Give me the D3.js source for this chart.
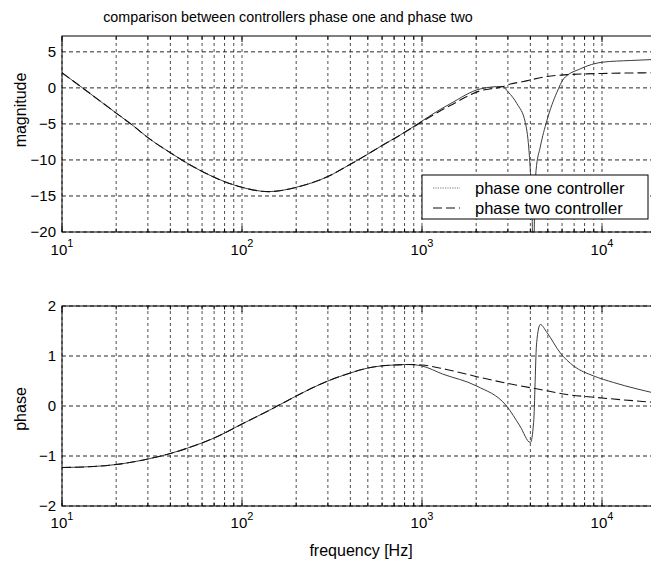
<!DOCTYPE html>
<html><head><meta charset="utf-8">
<script src="https://cdn.jsdelivr.net/npm/d3@7"></script>
<style>body{margin:0;background:#fff}svg{display:block}text{font-family:"Liberation Sans",Arial,sans-serif;fill:#000}</style>
</head><body><svg id="c" width="651" height="567"></svg>
<script>
// ---- data ----
const magFreqP1 = [10,13,20,25,30,40,50,70,100,140,200,300,400,500,600,750,1000,1260,1435,2110,2780,3020,3370,3750,3915,4000,4080,4150,4230,4300,4540,4945,5620,6120,7570,10080,14350,20000];
const magP1     = [2.1,0,-3.5,-5.3,-6.9,-9.0,-10.5,-12.4,-13.8,-14.4,-13.8,-12.3,-10.6,-9.2,-8.0,-6.6,-4.6,-3.0,-2.2,-0.14,0.2,-0.6,-2.2,-4.8,-8.2,-11.5,-16,-26,-16,-11.5,-8.2,-4.5,-0.6,1.25,2.64,3.57,3.8,3.95];
const magFreqP2 = [10,13,20,25,30,40,50,70,100,140,200,300,400,500,600,750,1000,1260,1435,2110,2780,3100,3665,4000,4945,6120,10000,20000];
const magP2     = [2.1,0,-3.5,-5.3,-6.9,-9.0,-10.5,-12.4,-13.8,-14.4,-13.8,-12.3,-10.6,-9.2,-8.0,-6.6,-4.7,-3.2,-2.45,-0.4,0.15,0.55,0.88,1.1,1.58,1.8,2.0,2.1];
const phFreqP1  = [10,15,20,30,40,50,70,100,150,200,300,400,500,700,850,1000,1300,2010,2950,3500,4000,4170,4335,4540,4945,5870,6960,9000,11600,20000];
const phP1      = [-1.23,-1.21,-1.17,-1.06,-0.95,-0.84,-0.64,-0.36,-0.04,0.2,0.5,0.66,0.76,0.82,0.83,0.8,0.64,0.4,0.0,-0.4,-0.73,-0.33,1.27,1.63,1.47,1.06,0.8,0.6,0.47,0.25];
const phFreqP2  = [10,15,20,30,40,50,70,100,150,200,300,400,500,700,850,1000,1370,2110,3215,4540,6390,9330,20000];
const phP2      = [-1.23,-1.21,-1.17,-1.06,-0.95,-0.84,-0.64,-0.36,-0.04,0.2,0.5,0.66,0.76,0.82,0.83,0.82,0.73,0.57,0.43,0.33,0.23,0.17,0.07];
const magTicks = [-20,-15,-10,-5,0,5];
const phTicks = [-2,-1,0,1,2];
const decadeTicks = [10,100,1000,10000];
const decadeExp = ["1","2","3","4"];
const seriesNames = ["phase one controller","phase two controller"];
const titleText = "comparison between controllers phase one and phase two";
const magLabel = "magnitude", phLabel = "phase", xLabel = "frequency [Hz]";

// ---- layout ----
const svg = d3.select("#c");
const x = d3.scaleLog().domain([10,20000]).range([62, 62+180*Math.log10(2000)]);
const minor = [];
for (let d=10; d<=10000; d*=10) for (let k=1;k<=9;k++){ if (d*k<=20000) minor.push(d*k); }
minor.push(20000);

const styles = {
  p1: {stroke:"#3c3c3c", width:1, dash:null},
  p2: {stroke:"#111", width:1.1, dash:"9,4"}
};

function panel(id, yDom, yRange, ticks, data, tickLabelY, ylabel, ylabelPos) {
  const y = d3.scaleLinear().domain(yDom).range(yRange);
  const g = svg.append("g");
  const x0 = x.range()[0], x1 = x.range()[1];
  g.append("clipPath").attr("id", id).append("rect")
    .attr("x", x0).attr("y", yRange[1]).attr("width", x1-x0).attr("height", yRange[0]-yRange[1]);
  g.append("g").selectAll("line").data(minor).join("line")
    .attr("x1", d=>x(d)).attr("x2", d=>x(d)).attr("y1", yRange[0]).attr("y2", yRange[1])
    .attr("stroke", "#222").attr("stroke-width", 0.8).attr("stroke-dasharray", "3,3");
  g.append("g").selectAll("line").data(ticks).join("line")
    .attr("x1", x0).attr("x2", x1).attr("y1", d=>y(d)).attr("y2", d=>y(d))
    .attr("stroke", "#111").attr("stroke-width", 0.9).attr("stroke-dasharray", "4,3");
  g.append("g").selectAll("line").data(minor).join("line")
    .attr("x1", d=>x(d)).attr("x2", d=>x(d)).attr("y1", yRange[0]).attr("y2", d=> yRange[0] - (decadeTicks.includes(d)?6:3.5))
    .attr("stroke", "#000");
  g.append("g").selectAll("line").data(minor).join("line")
    .attr("x1", d=>x(d)).attr("x2", d=>x(d)).attr("y1", yRange[1]).attr("y2", d=> yRange[1] + (decadeTicks.includes(d)?6:3.5))
    .attr("stroke", "#000");
  const line = d3.line().x(d=>x(d[0])).y(d=>y(d[1])).curve(d3.curveMonotoneX);
  data.forEach(s => {
    const p = g.append("path").attr("clip-path", `url(#${id})`)
      .attr("d", line(s.f.map((f,i)=>[f, s.v[i]])))
      .attr("fill","none").attr("stroke", s.st.stroke).attr("stroke-width", s.st.width);
    if (s.st.dash) p.attr("stroke-dasharray", s.st.dash);
  });
  g.append("rect").attr("x", x0).attr("y", yRange[1]).attr("width", x1-x0).attr("height", yRange[0]-yRange[1])
    .attr("fill","none").attr("stroke","#000").attr("stroke-width",1);
  g.append("g").selectAll("text").data(ticks).join("text")
    .attr("x", 56).attr("y", d=>y(d)).attr("dy","0.36em").attr("text-anchor","end")
    .attr("font-size", 15).text(d=>d3.format("d")(d));
  const xt = g.append("g").selectAll("text").data(decadeTicks).join("text")
    .attr("x", d=>x(d)).attr("y", tickLabelY).attr("text-anchor","middle").attr("font-size",15);
  xt.append("tspan").text("10");
  xt.append("tspan").attr("dy", -8).attr("font-size", 11).text((d,i)=>decadeExp[i]);
  g.append("text").attr("transform", `translate(${ylabelPos[0]},${ylabelPos[1]}) rotate(-90)`)
    .attr("text-anchor","middle").attr("font-size",16).text(ylabel);
  return y;
}

panel("clipTop", [-20,7.2], [232,36], magTicks,
  [{f:magFreqP1, v:magP1, st:styles.p1},{f:magFreqP2, v:magP2, st:styles.p2}], 255, magLabel, [26,110]);
panel("clipBot", [-2,2], [506,306], phTicks,
  [{f:phFreqP1, v:phP1, st:styles.p1},{f:phFreqP2, v:phP2, st:styles.p2}], 528, phLabel, [26,409]);

svg.append("text").attr("x", 288).attr("y", 22).attr("text-anchor","middle").attr("font-size",14.3).text(titleText);
svg.append("text").attr("x", 361).attr("y", 556).attr("text-anchor","middle").attr("font-size",16).text(xLabel);

const lg = svg.append("g");
lg.append("rect").attr("x",422).attr("y",175).attr("width",226).attr("height",44).attr("fill","#fff").attr("stroke","#000");
[styles.p1, styles.p2].forEach((st,i)=>{
  const yy = 188 + i*20;
  lg.append("line").attr("x1",433).attr("x2",460).attr("y1",yy).attr("y2",yy)
    .attr("stroke", i===0 ? "#777" : st.stroke).attr("stroke-width", st.width)
    .attr("stroke-dasharray", i===0 ? "1.2,1.2" : st.dash);
  lg.append("text").attr("x",475).attr("y",yy).attr("dy","0.36em").attr("font-size",16.5).text(seriesNames[i]);
});
</script></body></html>
